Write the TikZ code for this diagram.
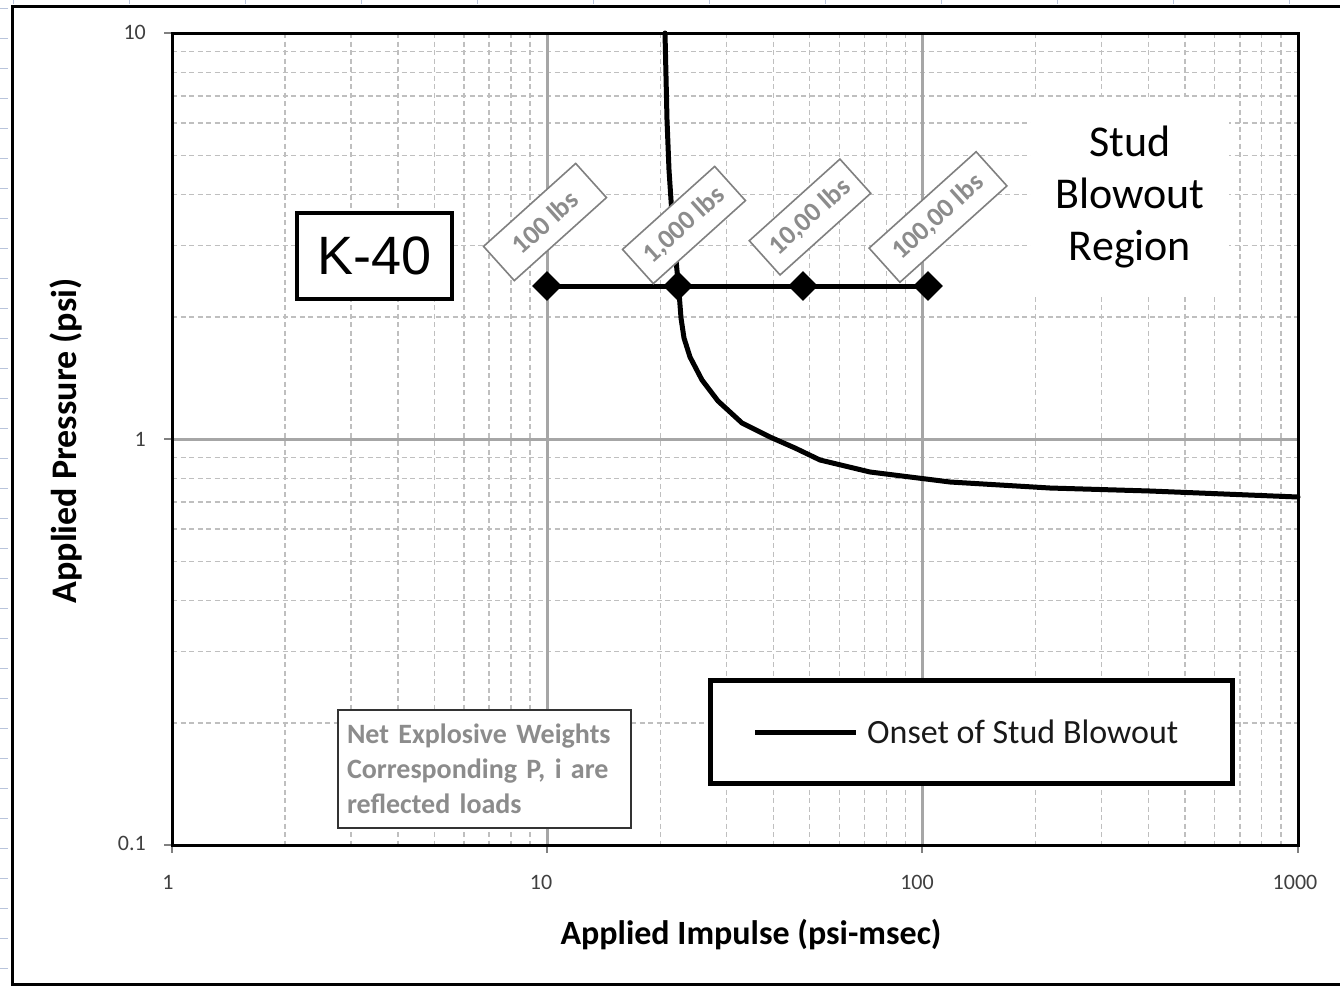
\documentclass[tikz,border=0pt]{standalone}
\usepackage{fontspec}
\setmainfont{Carlito}
\newfontfamily\arialf{Liberation Sans}
\usetikzlibrary{shapes.geometric}
\definecolor{gridgray}{HTML}{BFBFBF}
\definecolor{majgray}{HTML}{A6A6A6}
\definecolor{labgray}{HTML}{8C8C8C}
\definecolor{tickcol}{HTML}{404040}
\definecolor{rulercol}{HTML}{B8C4DC}
\tikzset{
  minorgrid/.style={draw=gridgray, line width=1.4, dash pattern=on 5pt off 3.5pt},
  majorgrid/.style={draw=majgray, line width=3},
  plotframe/.style={draw=black, line width=3},
  curveline/.style={draw=black, line width=5, line join=round, line cap=round},
  diam/.style={diamond, fill=black, minimum size=30, inner sep=0pt},
  wlabel/.style={draw=gray, line width=1.6, fill=white, text=labgray, rotate=42,
    font=\fontsize{27}{30}\selectfont\bfseries, minimum height=46, inner sep=0pt},
  ticklab/.style={text=tickcol, font=\fontsize{22}{26}\selectfont, inner sep=0pt},
  axtitle/.style={text=black, font=\fontsize{34}{40}\selectfont\bfseries, inner sep=0pt},
}
\begin{document}
\begin{tikzpicture}[x=1pt,y=-1pt]
\useasboundingbox (0,0) rectangle (1340,986);
\fill[white] (0,0) rectangle (1340,986);
% ruler ticks
\foreach \k in {0,...,32}{\draw[rulercol, line width=1] (0,8+30*\k) -- (8,8+30*\k);}
\foreach \k in {0,...,11}{\draw[rulercol, line width=1] (13+116*\k,0) -- (13+116*\k,4);}
% outer frame
\draw[black, line width=3] (1340,6) -- (12,6) -- (12,984) -- (1340,984);
% minor grid
\foreach \d in {0,1,2}{\foreach \k in {2,...,9}{
  \pgfmathsetmacro\xx{172+375.33*(\d+log10(\k))}
  \draw[minorgrid] (\xx,33) -- (\xx,845);}}
\foreach \d in {0,1}{\foreach \k in {2,...,9}{
  \pgfmathsetmacro\yy{845-406*(\d+log10(\k))}
  \draw[minorgrid] (172,\yy) -- (1298,\yy);}}
% major grid
\draw[majorgrid] (547,33) -- (547,845);
\draw[majorgrid] (922,33) -- (922,845);
\draw[majorgrid] (172,439) -- (1298,439);
% axis ticks
\foreach \yy in {33,439,845}{\draw[gray, line width=1.5] (164,\yy) -- (172,\yy);}
\foreach \xx in {172,547,922,1298}{\draw[gray, line width=1.5] (\xx,845) -- (\xx,853);}
% plot frame
\draw[plotframe] (172,33) rectangle (1298,845);
% tick labels
\node[ticklab, anchor=east] (y10) at (146,32) {10};
\node[ticklab, anchor=east] (y1) at (146,439) {1};
\node[ticklab, anchor=east] (y01) at (146,843) {0.1};
\node[ticklab] (x1) at (168,882) {1};
\node[ticklab] (x10) at (541,882) {10};
\node[ticklab] (x100) at (917,882) {100};
\node[ticklab] (x1000) at (1295,882) {1000};
% axis titles
\node[axtitle] (xt) at (751,935) {Applied Impulse (psi-msec)};
\node[axtitle, rotate=90, font=\fontsize{36}{40}\selectfont\bfseries] (yt) at (66,441) {Applied Pressure (psi)};
% stud blowout region text
\node[fill=white, minimum width=198, minimum height=200, align=center,
  font=\fontsize{44}{52}\selectfont] (region) at (1130,197) {Stud\\Blowout\\Region};
% curve
\draw[curveline] (665,33) -- (667,120) -- (669,170) -- (672,215) -- (676,260) -- (679,292)
  -- (681,318) -- (684,338) -- (690,357) -- (702,380) -- (718,401) -- (742,423)
  -- (770,437) -- (795,448) -- (820,460) -- (870,472) -- (950,482) -- (1050,488)
  -- (1150,491) -- (1298,497);
% markers
\coordinate (p1) at (547,286);
\coordinate (p2) at (678,286);
\coordinate (p3) at (803,286);
\coordinate (p4) at (928,286);
\draw[black, line width=5] (p1) -- (p4);
\node[diam] (m1) at (p1) {};
\node[diam] (m2) at (p2) {};
\node[diam] (m3) at (p3) {};
\node[diam] (m4) at (p4) {};
% weight labels
\node[wlabel, minimum width=124] (l1) at (545,222) {100 lbs};
\node[wlabel, minimum width=124] (l2) at (684,225) {1,000 lbs};
\node[wlabel, minimum width=122] (l3) at (810,217) {10,00 lbs};
\node[wlabel, minimum width=144] (l4) at (938,217) {100,00 lbs};
% K-40 box
\node[draw=black, line width=4, fill=white, minimum width=155, minimum height=86,
  font=\arialf\fontsize{54}{60}\selectfont] (k40) at (374.5,256) {K-40};
% note box
\node[draw=black!80, line width=1.6, fill=white, minimum width=293, minimum height=118,
  text width=275, align=left, text=labgray, inner sep=0pt,
  font=\fontsize{28}{35}\selectfont\bfseries] (note) at (484.5,769)
  {Net Explosive Weights\\Corresponding P, i are\\reflected loads};
% legend
\node[draw=black, line width=5, fill=white, minimum width=522, minimum height=103] (legend) at (971,731.5) {};
\coordinate (la) at (755,732);
\coordinate (lb) at (856,732);
\draw[black, line width=5] (la) -- (lb);
\node[anchor=west, inner sep=0pt, font=\fontsize{34}{40}\selectfont, text=black!90] (legtext) at (867,732) {Onset of Stud Blowout};
\end{tikzpicture}
\end{document}
